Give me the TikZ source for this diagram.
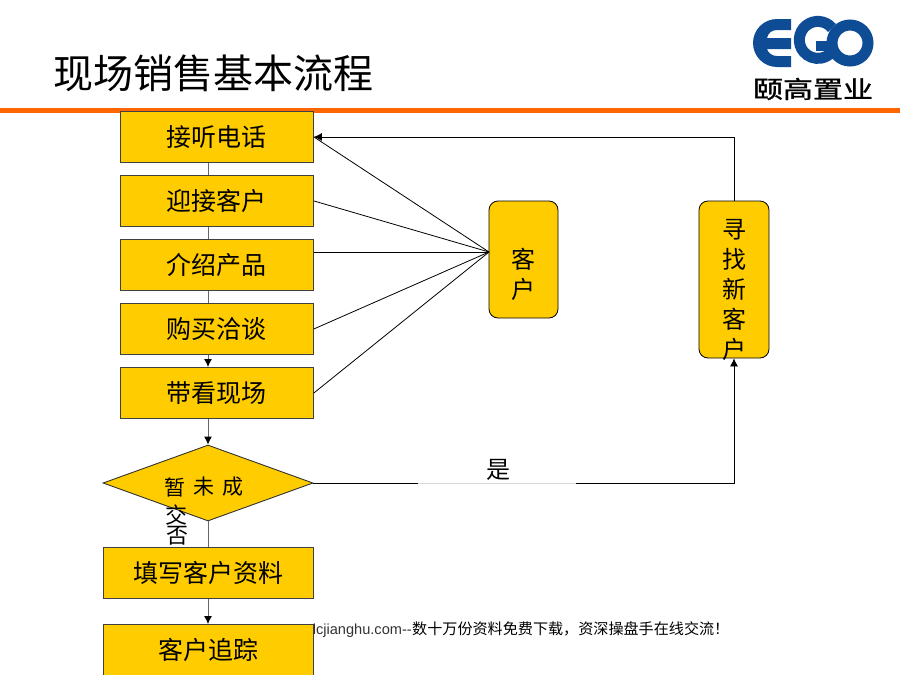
\documentclass[tikz,border=0pt]{standalone}
\usepackage{fontspec}
\usepackage{graphicx}
\setmainfont{Noto Sans CJK SC}
\newfontfamily\latinf{Liberation Sans}
\newfontfamily\cnbold[FakeBold=1.2]{Noto Sans CJK SC}
\usetikzlibrary{shapes.geometric,arrows.meta}
\definecolor{boxfill}{HTML}{FFCC00}
\definecolor{bar}{HTML}{FF6600}
\definecolor{logob}{HTML}{0F4C96}
\tikzset{
 x=1pt,y=-1pt,
 flow/.style={draw=black!75,line width=.9pt,fill=boxfill,minimum width=193pt,minimum height=51pt,inner sep=0pt,font=\fontsize{25}{25}\selectfont},
 wide/.style={flow,minimum width=210pt},
 rnd/.style={draw=black,line width=.8pt,fill=boxfill,rounded corners=9pt,inner sep=0pt},
 vtxt/.style={inner sep=0pt,align=center,font=\fontsize{24}{30}\selectfont},
 link/.style={draw=black,line width=.8pt},
 stem/.style={draw=black!60,line width=.9pt},
 tip/.style={-{Latex[length=8pt,width=8pt,color=black]}},
 free/.style={inner sep=0pt},
}
\begin{document}
\begin{tikzpicture}
\useasboundingbox (0,0) rectangle (900,675);
\fill[white] (0,0) rectangle (900,675);
% footer (behind the boxes)
\node[free,anchor=east,font=\latinf\fontsize{14.6}{15}\selectfont,text=black!80] (web) at (412,631) {lcjianghu.com--};
\node[free,anchor=west,font=\fontsize{15.1}{15}\selectfont] (foot) at (412,629) {数十万份资料免费下载，资深操盘手在线交流！};
% header
\fill[bar] (0,108) rectangle (900,113);
\node[free,anchor=west,font=\fontsize{40}{40}\selectfont] (title) at (53,73) {现场销售基本流程};
% logo: coordinates relative to (813,43), y upward
\begin{scope}[shift={(813,43)},y=1pt,line cap=butt]
 % E
 \fill[logob] (-22,24) -- (-36,24) arc[start angle=90,end angle=270,radius=24] -- (-22,-24) -- (-22,-13) -- (-36,-13)
   .. controls (-41,-13) and (-45,-10) .. (-46,-6) -- (-22,-6) -- (-22,5) -- (-46,5)
   .. controls (-45,10) and (-41,13) .. (-36,13) -- (-22,13) -- cycle;
 % G
 \draw[logob,line width=11pt] (19,15) arc[start angle=40,end angle=320,radius=18.5];
 \fill[logob] (3,-8) rectangle (20,2);
 % O
 \draw[logob,line width=11pt] (37,0) circle[radius=18];
\end{scope}
\node[free,font=\cnbold\fontsize{30}{30}\selectfont] (cn) at (813,89) {\scalebox{1}[.8]{颐高置业}};
% nodes
\node[flow,anchor=north west] (b1) at (120,111) {接听电话};
\node[flow,anchor=north west] (b2) at (120,175) {迎接客户};
\node[flow,anchor=north west] (b3) at (120,239) {介绍产品};
\node[flow,anchor=north west] (b4) at (120,303) {购买洽谈};
\node[flow,anchor=north west] (b5) at (120,367) {带看现场};
\node[diamond,draw=black!80,line width=.9pt,fill=boxfill,minimum width=210pt,minimum height=76pt,inner sep=0pt,aspect=2.76] (dec) at (208,483) {};
\node[wide,anchor=north west] (b6) at (103,547) {填写客户资料};
\node[wide,anchor=north west] (b7) at (103,624) {客户追踪};
\node[rnd,minimum width=69pt,minimum height=117pt] (kh) at (523.5,259.5) {};
\node[vtxt] (khtxt) at (523.5,274) {客\\户};
\node[rnd,minimum width=70pt,minimum height=157pt] (xz) at (734,279.5) {};
\node[vtxt] (xztxt) at (734,290) {寻\\找\\新\\客\\户};
\coordinate (khin) at (489,252);
% connectors
\draw[stem] (dec.north |- b1.south) -- (dec.north |- b2.north);
\draw[stem] (dec.north |- b2.south) -- (dec.north |- b3.north);
\draw[stem] (dec.north |- b3.south) -- (dec.north |- b4.north);
\draw[stem,tip] (dec.north |- b4.south) -- (dec.north |- b5.north);
\draw[stem,tip] (dec.north |- b5.south) -- (dec.north);
\draw[stem] (dec.south) -- (dec.south |- b6.north);
\draw[stem,tip] (dec.south |- b6.south) -- (dec.south |- b7.north);
\draw[link] (khin) -- (b1.east);
\draw[link] (khin) -- (b2.east);
\draw[link] (khin) -- (khin -| b3.east);
\draw[link] (khin) -- (b4.east);
\draw[link] (khin) -- (b5.east);
\draw[link,tip] (xz.north) |- (b1.east);
\draw[link,tip] (dec.east) -| (xz.south);
% diamond text and labels
\node[free,font=\fontsize{21}{21}\selectfont] (d1) at (175,487) {暂};
\node[free,font=\fontsize{21}{21}\selectfont] (d2) at (204,487) {未};
\node[free,font=\fontsize{21}{21}\selectfont] (d3) at (233,487) {成};
\node[free,font=\fontsize{22}{22}\selectfont] (d4) at (176,515) {交};
\node[free,font=\fontsize{22}{22}\selectfont] (no) at (177,536) {否};
\fill[white,opacity=.85] (418,481) rectangle (576,485);
\node[free,font=\fontsize{24}{24}\selectfont] (yes) at (498,470) {是};
\end{tikzpicture}
\end{document}
